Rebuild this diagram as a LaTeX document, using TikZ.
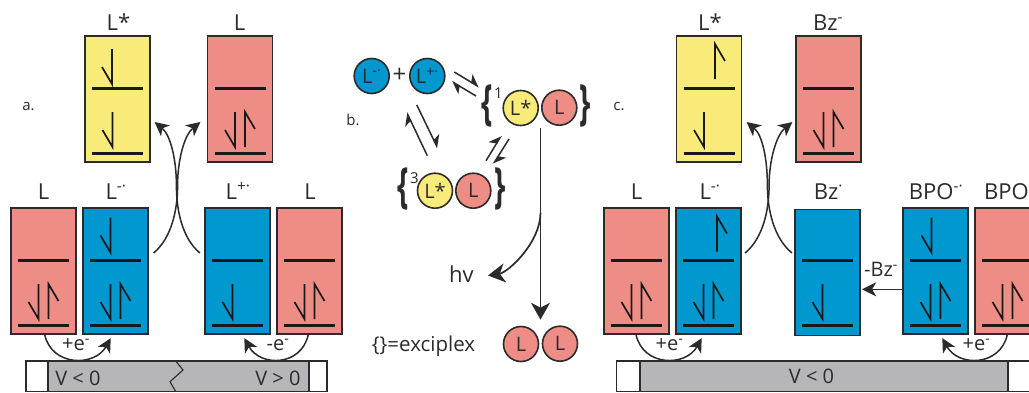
\documentclass[tikz,border=0pt]{standalone}
\usepackage{fontspec}
\setmainfont{Open Sans}
\usetikzlibrary{arrows.meta,calc}
\definecolor{boxyellow}{HTML}{F9EB7A}
\definecolor{boxpink}{HTML}{EE8C86}
\definecolor{boxblue}{HTML}{0098CE}
\definecolor{bargrey}{HTML}{B6B5B8}
\definecolor{ink}{HTML}{2B2B2B}
\tikzset{
  orbital/.style={draw=ink,line width=1.2pt,minimum width=65pt,minimum height=126pt,inner sep=0pt},
  ball/.style={circle,draw=ink,line width=1.6pt,minimum size=35pt,inner sep=0pt,text=ink,font=\fontsize{20}{22}\selectfont},
  level/.style={line width=3.5pt,black!90},
  spin/.style={line width=1.7pt,black!90},
  curved/.style={line width=1.5pt,ink,-{Stealth[length=14pt,width=14pt,inset=4pt]}},
  harpoon/.style={line width=1.5pt,ink,-{Stealth[harpoon,length=11pt,width=15pt,inset=3pt]}},
  title/.style={anchor=base,text=ink,inner sep=0pt,font=\fontsize{22}{24}\selectfont},
  tag/.style={text=ink,inner sep=0pt,font=\fontsize{20}{24}\selectfont},
  curly/.style={text=ink,inner sep=0pt,font=\fontsize{36}{40}\selectfont\bfseries},
  spindown/.pic={\draw[spin] (0,0) -- (0,35) -- (-10,18);},
  spinup/.pic={\draw[spin] (0,35) -- (0,0) -- (10,17);},
}
\begin{document}
\begin{tikzpicture}[x=1pt,y=-1pt]
    \clip (0,0) rectangle (1029,392);
    \fill[white] (0,0) rectangle (1029,392);

    % Panel a, boxes
    \node[orbital,fill=boxyellow] (astar) at (117.5,99) {};
    \node[orbital,fill=boxpink] (aground) at (240,99) {};
    \node[orbital,fill=boxpink] (aleft) at (43.5,271) {};
    \node[orbital,fill=boxblue] (aanion) at (115.5,271) {};
    \node[orbital,fill=boxblue] (acation) at (237.5,271) {};
    \node[orbital,fill=boxpink] (aright) at (309.5,271) {};

    % Panel c, boxes
    \node[orbital,fill=boxyellow] (cstar) at (709,99) {};
    \node[orbital,fill=boxpink] (cbzanion) at (828.5,99) {};
    \node[orbital,fill=boxpink] (cleft) at (636.5,271) {};
    \node[orbital,fill=boxblue] (canion) at (708.5,271) {};
    \node[orbital,fill=boxblue] (cbz) at (827.5,272.5) {};
    \node[orbital,fill=boxblue] (cbpoanion) at (935.5,271) {};
    \node[orbital,fill=boxpink] (cbpo) at (1007.5,271) {};

    % Levels
    \foreach \b/\s in {astar/0,aground/0,aleft/0,aanion/0,acation/0,aright/0,cstar/0,cbzanion/0,cleft/0,canion/0,cbz/-1.5,cbpoanion/0,cbpo/0} {
        \draw[level] ($(\b.center)+(-25.5,-10.5+\s)$) -- +(51,0);
        \draw[level] ($(\b.center)+(-25.5,54.7+\s)$) -- +(51,0);
    }

    % Spins
    \foreach \b/\dx/\dy in {astar/-5.5/-50,aanion/-5/-53.5,cbpoanion/-4/-53.5} {
        \pic at ($(\b.center)+(\dx,\dy)$) {spindown};
    }
    \foreach \b/\dx/\dy in {cstar/6/-55,canion/8.5/-54.5} {
        \pic at ($(\b.center)+(\dx,\dy)$) {spinup};
    }
    \foreach \b/\dy in {astar/13,acation/13,cstar/13,cbz/11.5} {
        \pic at ($(\b.center)+(-5,\dy)$) {spindown};
    }
    \foreach \b in {aground,aleft,aanion,aright,cbzanion,cleft,canion,cbpoanion,cbpo} {
        \pic at ($(\b.center)+(-5,13)$) {spindown};
        \pic at ($(\b.center)+(5,13)$) {spinup};
    }

    % Box titles
    \node[title] (tastar) at (118.5,30.5) {L*};
    \node[title] (taground) at (239.5,30.5) {L};
    \node[title] (taleft) at (43.5,199) {L};
    \node[title] (taanion) at (116,199) {L\textsuperscript{-·}};
    \node[title] (tacation) at (238,199) {L\textsuperscript{+·}};
    \node[title] (taright) at (310,199) {L};
    \node[title] (tcstar) at (710,30.5) {L*};
    \node[title] (tcbzanion) at (828,30.5) {Bz\textsuperscript{-}};
    \node[title] (tcleft) at (636.5,199) {L};
    \node[title] (tcanion) at (710,199) {L\textsuperscript{-·}};
    \node[title] (tcbz) at (828.5,199) {Bz\textsuperscript{·}};
    \node[title] (tcbpoanion) at (936,199) {BPO\textsuperscript{-·}};
    \node[title,anchor=base west] (tcbpo) at (984,199) {BPO};

    % Panel letters
    \node[tag,font=\fontsize{15}{16}\selectfont] (lettera) at (28.5,107) {a.};
    \node[tag,font=\fontsize{15}{16}\selectfont] (letterb) at (353,120) {b.};
    \node[tag,font=\fontsize{15}{16}\selectfont] (letterc) at (619,107) {c.};

    % Crossing arrows
    \draw[curved] ($(aanion.east)+(5,-18)$) .. controls +(18,-15) and +(0,25) .. ($(aanion.east)+(29,-86)$) .. controls +(0,-25) and +(-16,13) .. ($(aground.west)+(-6.5,23)$);
    \draw[curved] ($(acation.west)+(-4.5,-18)$) .. controls +(-18,-15) and +(0,25) .. ($(acation.west)+(-28,-86)$) .. controls +(0,-25) and +(16,13) .. ($(astar.east)+(4,23)$);
    \draw[curved] ($(canion.east)+(3.5,-18)$) .. controls +(18,-15) and +(0,25) .. ($(canion.east)+(27.5,-86)$) .. controls +(0,-25) and +(-16,13) .. ($(cbzanion.west)+(-3,23)$);
    \draw[curved] ($(cbz.west)+(-2.5,-19.5)$) .. controls +(-18,-15) and +(0,25) .. ($(cbz.west)+(-27,-87.5)$) .. controls +(0,-25) and +(16,13) .. ($(cstar.east)+(4.5,23)$);

    % Electrode bars
    \draw[ink,line width=1.3pt,fill=white] (26,361) rectangle (327,391.5);
    \node[draw=ink,line width=1.3pt,fill=bargrey,minimum width=261pt,minimum height=30.5pt,inner sep=0pt] (abar) at (178.5,376.25) {};
    \draw[ink,line width=1.1pt] (175.7,361) -- (183,370) -- (170,381.7) -- (175.7,391.5);
    \draw[ink,line width=1.3pt,fill=white] (616.5,361) rectangle (1040,391.5);
    \node[draw=ink,line width=1.3pt,fill=bargrey,minimum width=368pt,minimum height=30.5pt,inner sep=0pt] (cbar) at (824,376.25) {};
    \node[tag] (vneg) at (78,378) {V < 0};
    \node[tag] (vpos) at (278,378) {V > 0};
    \node[tag] (cvneg) at (811.5,376.5) {V < 0};

    % Electron transfers
    \draw[curved] ($(aleft.south)+(1.2,0)$) .. controls +(7,32) and +(-16,29) .. ($(aanion.south)+(-4.8,3.5)$);
    \draw[curved] ($(aright.south)+(-1.2,0)$) .. controls +(-7,32) and +(16,29) .. ($(acation.south)+(6.8,3.5)$);
    \draw[curved] ($(cleft.south)+(-0.5,0)$) .. controls +(7,32) and +(-16,29) .. ($(canion.south)+(-6.8,3.5)$);
    \draw[curved] ($(cbpo.south)+(-0.2,0)$) .. controls +(-7,32) and +(16,29) .. ($(cbpoanion.south)+(6.8,3.5)$);
    \node[tag] (eplusa) at (76,345) {+e\textsuperscript{-}};
    \node[tag] (eminusa) at (278,345) {-e\textsuperscript{-}};
    \node[tag] (epluscl) at (669.5,345) {+e\textsuperscript{-}};
    \node[tag] (epluscr) at (976.5,345) {+e\textsuperscript{-}};
    \draw[curved] ($(cbpoanion.west)+(0,18.3)$) -- ($(cbz.east)+(1.5,16.8)$);
    \node[tag] (bzloss) at (881,269.5) {-Bz\textsuperscript{-}};

    % Panel b
    \node[ball,fill=boxblue] (banion) at (371.7,76) {L\textsuperscript{-·}};
    \node[tag,font=\fontsize{24}{24}\selectfont] (plus) at (399.5,75) {+};
    \node[ball,fill=boxblue] (bcation) at (427.3,76) {L\textsuperscript{+·}};
    \node[ball,fill=boxyellow] (sstar) at (520.7,108) {L*};
    \node[ball,fill=boxpink] (sground) at (559.3,107.7) {L};
    \node[ball,fill=boxyellow] (tstar) at (435,190.7) {L*};
    \node[ball,fill=boxpink] (tground) at (473.3,190.7) {L};
    \node[curly] (sopen) at (487,106) {\scalebox{.8}[1.35]{\{}};
    \node[curly] (sclose) at (585,106) {\scalebox{.8}[1.35]{\}}};
    \node[curly] (topen) at (403,189) {\scalebox{.8}[1.35]{\{}};
    \node[curly] (tclose) at (500,189) {\scalebox{.8}[1.35]{\}}};
    \node[tag,font=\fontsize{15}{16}\selectfont] (sone) at (498.5,93) {1};
    \node[tag,font=\fontsize{15}{16}\selectfont] (tthree) at (414.5,178) {3};
    \node[ball,fill=boxpink] (endleft) at (521,344) {L};
    \node[ball,fill=boxpink] (endright) at (560,343.7) {L};
    \node[tag,font=\fontsize{22}{24}\selectfont] (hv) at (461.5,274) {hv};
    \node[tag,font=\fontsize{20.5}{24}\selectfont] (legend) at (423.5,346.5) {\{\}=exciplex};

    % Equilibria
    \draw[harpoon] ($(bcation)+(27,-4)$) -- ($(sopen)+(-8,-19)$);
    \draw[harpoon] ($(sopen)+(-11,-10)$) -- ($(bcation)+(24.5,5.5)$);
    \draw[harpoon] ($(bcation)+(-10.5,29)$) -- ($(tstar)+(2.7,-42.5)$);
    \draw[harpoon] ($(tstar)+(-7.7,-35)$) -- ($(bcation)+(-20.5,36.5)$);
    \draw[harpoon] ($(tground)+(12.7,-30)$) -- ($(sstar)+(-19.4,27.7)$);
    \draw[harpoon] ($(sstar)+(-11.7,31)$) -- ($(tground)+(20,-26.7)$);

    % Decay
    \draw[line width=1.7pt,ink,-{Stealth[length=17pt,width=19pt,inset=5pt]}] ($(sground)+(-18.8,20.5)$) -- ($(endright)+(-19.5,-24)$);
    \draw[curved,line width=1.7pt,-{Stealth[length=17pt,width=19pt,inset=5pt]}] ($(sground)+(-18.8,105)$) .. controls +(0,30) and +(20,-3) .. ($(hv.east)+(14,1.5)$);
\end{tikzpicture}
\end{document}
